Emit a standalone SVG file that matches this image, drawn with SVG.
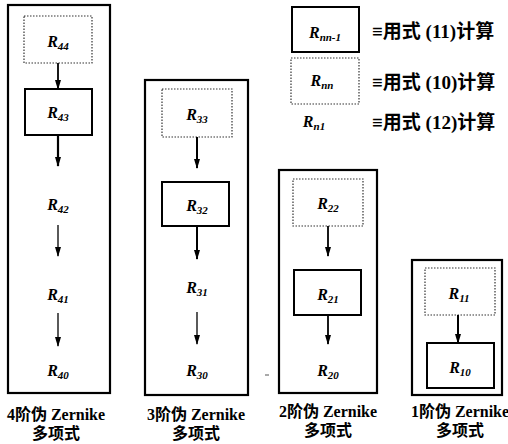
<svg xmlns="http://www.w3.org/2000/svg" width="508" height="444" viewBox="0 0 508 444">
<style>
.outer{fill:none;stroke:#000;stroke-width:2.2}
.solid{fill:#fff;stroke:#000;stroke-width:2}
.dot{fill:#fff;stroke:#333;stroke-width:1.2;stroke-dasharray:1.5 1.5}
.a2{stroke:#000;stroke-width:1.3;fill:none;marker-end:url(#ah2)}
.r{font-style:italic;font-size:16px;text-anchor:middle}
.s{font-size:11px}
.lab{font-size:16px;text-anchor:middle}
.leg{font-size:19px}
</style>
<defs>
<marker id="ah2" markerUnits="userSpaceOnUse" markerWidth="10" markerHeight="10" refX="9" refY="5" orient="auto" viewBox="0 0 10 10">
<path d="M0,2 L10,5 L0,8 Z" fill="#000"/>
</marker>
</defs>

<g font-family="'Liberation Serif', 'Times New Roman', 'DejaVu Serif', 'Noto Sans CJK SC', serif" font-weight="bold" fill="#000">
<g id="col4">
<rect class="outer" x="8" y="5" width="102" height="388"/>
<g id="R44"><rect class="dot" x="24" y="16" width="68" height="47"/><text class="r" x="58" y="47">R<tspan class="s" dy="3">44</tspan></text></g>
<g id="R43"><rect class="solid" x="25" y="89" width="67" height="46"/><text class="r" x="58" y="118">R<tspan class="s" dy="3">43</tspan></text></g>
<g id="R42"><text class="r" x="58" y="210">R<tspan class="s" dy="3">42</tspan></text></g>
<g id="R41"><text class="r" x="58" y="300">R<tspan class="s" dy="3">41</tspan></text></g>
<g id="R40"><text class="r" x="58" y="376">R<tspan class="s" dy="3">40</tspan></text></g>
<text class="lab" x="56" y="420">4阶伪 Zernike</text>
<text class="lab" x="56" y="439">多项式</text>
</g>

<g id="col3">
<rect class="outer" x="145" y="80" width="103" height="315"/>
<g id="R33"><rect class="dot" x="162" y="89" width="70" height="48"/><text class="r" x="197" y="120">R<tspan class="s" dy="3">33</tspan></text></g>
<g id="R32"><rect class="solid" x="162" y="182" width="67" height="44"/><text class="r" x="197" y="211">R<tspan class="s" dy="3">32</tspan></text></g>
<g id="R31"><text class="r" x="197" y="293">R<tspan class="s" dy="3">31</tspan></text></g>
<g id="R30"><text class="r" x="197" y="376">R<tspan class="s" dy="3">30</tspan></text></g>
<text class="lab" x="196" y="420">3阶伪 Zernike</text>
<text class="lab" x="196" y="439">多项式</text>
</g>

<g id="col2">
<rect class="outer" x="279" y="170" width="98" height="223"/>
<g id="R22"><rect class="dot" x="293" y="179" width="70" height="47"/><text class="r" x="328" y="209">R<tspan class="s" dy="3">22</tspan></text></g>
<g id="R21"><rect class="solid" x="294" y="270" width="67" height="45"/><text class="r" x="328" y="300">R<tspan class="s" dy="3">21</tspan></text></g>
<g id="R20"><text class="r" x="328" y="376">R<tspan class="s" dy="3">20</tspan></text></g>
<text class="lab" x="328" y="417">2阶伪 Zernike</text>
<text class="lab" x="328" y="436">多项式</text>
</g>

<g id="col1">
<rect class="outer" x="412" y="260" width="90" height="135"/>
<g id="R11"><rect class="dot" x="425" y="268" width="70" height="47"/><text class="r" x="459" y="299">R<tspan class="s" dy="3">11</tspan></text></g>
<g id="R10"><rect class="solid" x="427" y="343" width="67" height="45"/><text class="r" x="460" y="373">R<tspan class="s" dy="3">10</tspan></text></g>
<text class="lab" x="460" y="417">1阶伪 Zernike</text>
<text class="lab" x="460" y="436">多项式</text>
</g>

<g id="legend">
<g id="leg-solid"><rect class="solid" x="292" y="7" width="67" height="45"/><text class="r" x="325" y="38">R<tspan class="s" dy="3">nn-1</tspan></text>
<text class="leg" x="372" y="38">≡用式 (11)计算</text></g>
<g id="leg-dot"><rect class="dot" x="291" y="58" width="68" height="46"/><text class="r" x="322" y="86">R<tspan class="s" dy="3">nn</tspan></text>
<text class="leg" x="372" y="89">≡用式 (10)计算</text></g>
<g id="leg-plain"><text class="r" x="314" y="127">R<tspan class="s" dy="3">n1</tspan></text>
<text class="leg" x="372" y="129">≡用式 (12)计算</text></g>
</g>
</g>

<g id="connectors">
<line class="a2" x1="58" y1="63" x2="58" y2="89" style="stroke-width:1.8"/>
<line class="a2" x1="58" y1="135" x2="58" y2="166" style="stroke-width:2.2"/>
<line class="a2" x1="58" y1="225" x2="58" y2="256"/>
<line class="a2" x1="58" y1="313" x2="58" y2="346"/>
<line class="a2" x1="197" y1="137" x2="197" y2="168" style="stroke-width:2"/>
<line class="a2" x1="197" y1="226" x2="197" y2="259" style="stroke-width:2"/>
<line class="a2" x1="197" y1="312" x2="197" y2="344"/>
<line class="a2" x1="328" y1="226" x2="328" y2="256" style="stroke-width:1.8"/>
<line class="a2" x1="328" y1="315" x2="328" y2="344" style="stroke-width:1.8"/>
<line class="a2" x1="458" y1="315" x2="458" y2="343" style="stroke-width:2"/>
</g>
<line x1="265" y1="375" x2="269" y2="375" stroke="#555" stroke-width="1"/>
</svg>
